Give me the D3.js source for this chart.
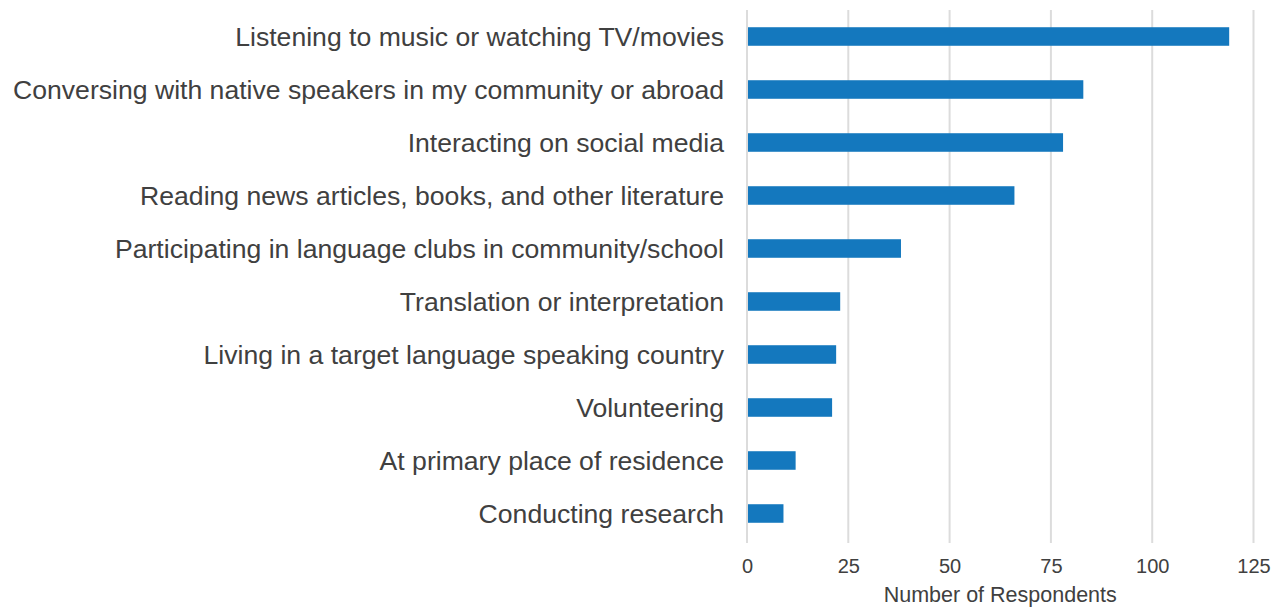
<!DOCTYPE html>
<html>
<head>
<meta charset="utf-8">
<script src="https://cdn.jsdelivr.net/npm/d3@7"></script>
<style>
  body { margin: 0; background: #fff; }
  text { font-family: "Liberation Sans", Arial, sans-serif; fill: #404040; }
</style>
</head>
<body>
<svg id="chart" width="1281" height="608"></svg>
<script>
// categories, top to bottom
const activities = [
  "Listening to music or watching TV/movies",
  "Conversing with native speakers in my community or abroad",
  "Interacting on social media",
  "Reading news articles, books, and other literature",
  "Participating in language clubs in community/school",
  "Translation or interpretation",
  "Living in a target language speaking country",
  "Volunteering",
  "At primary place of residence",
  "Conducting research"
];
const respondents = [119, 83, 78, 66, 38, 23, 22, 21, 12, 9];
const xTicks = [0, 25, 50, 75, 100, 125];

const svg = d3.select("#chart");
const margin = { left: 747, right: 27.5, top: 10, bottom: 68 };
const width = +svg.attr("width"), height = +svg.attr("height");

const x = d3.scaleLinear().domain([0, 125]).range([margin.left, width - margin.right]);
const y = d3.scaleBand().domain(activities).range([margin.top, height - margin.bottom]).paddingInner(0.65).paddingOuter(0.325);

// grid lines
svg.append("g")
  .selectAll("line")
  .data(xTicks)
  .enter().append("line")
  .attr("x1", d => x(d)).attr("x2", d => x(d))
  .attr("y1", margin.top).attr("y2", height - margin.bottom + 3)
  .style("stroke", "#dcdcdc")
  .style("stroke-width", 2);

// bars
svg.append("g")
  .selectAll("rect")
  .data(activities)
  .enter().append("rect")
  .attr("x", x(0) + 1)
  .attr("y", d => y(d))
  .attr("height", y.bandwidth())
  .attr("width", (d, i) => x(respondents[i]) - x(0) - 1)
  .style("fill", "#1478be");

// category labels
svg.append("g")
  .selectAll("text")
  .data(activities)
  .enter().append("text")
  .attr("x", x(0) - 23)
  .attr("y", d => y(d) + y.bandwidth() / 2)
  .attr("dy", "0.35em")
  .attr("text-anchor", "end")
  .style("font-size", "26.6px")
  .text(d => d);

// x axis
const xAxis = svg.append("g")
  .attr("transform", `translate(0,${height - margin.bottom})`)
  .call(d3.axisBottom(x).tickValues(xTicks).tickSize(0).tickPadding(19));
xAxis.select(".domain").remove();
xAxis.selectAll("text")
  .style("font-size", "20px")
  .style("font-family", "'Liberation Sans', Arial, sans-serif")
  .style("fill", "#404040");

svg.append("text")
  .attr("x", (x(0) + x(125)) / 2)
  .attr("y", 602)
  .attr("text-anchor", "middle")
  .style("font-size", "21.5px")
  .text("Number of Respondents");
</script>
</body>
</html>
